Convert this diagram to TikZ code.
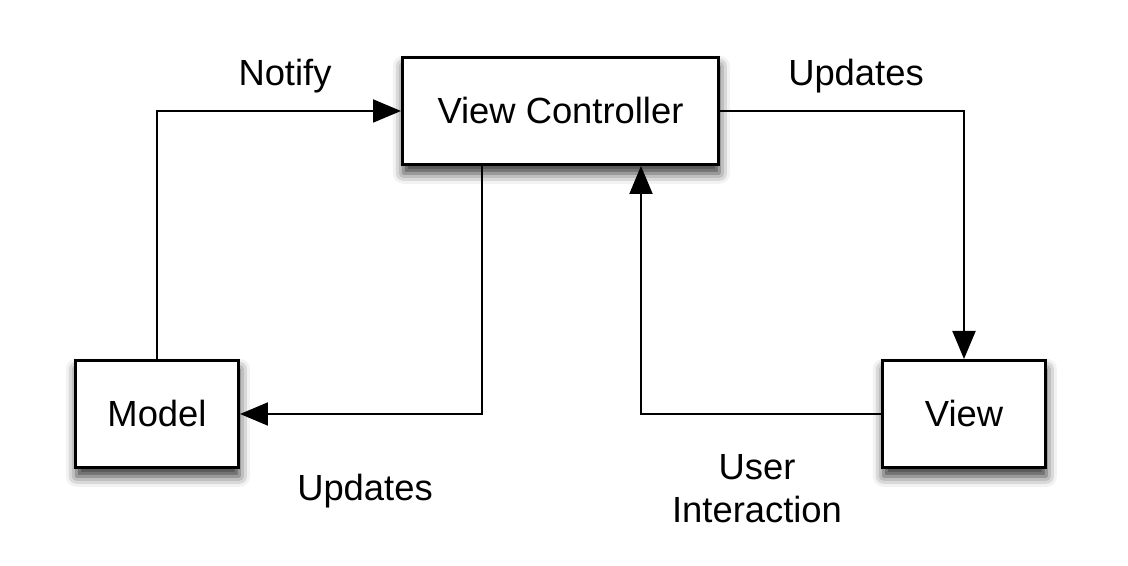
\documentclass[tikz,border=0pt]{standalone}
\usepackage{fontspec}
\setmainfont{Liberation Sans}
\usepackage{tikz}
\usetikzlibrary{arrows.meta}
\usetikzlibrary{positioning}
\usetikzlibrary{shadows.blur}

\tikzset{
  box/.style={draw, line width=1.7pt, fill=white, inner sep=0pt,
    minimum height=2.14cm,
    blur shadow={shadow xshift=0.5pt, shadow yshift=-5pt, shadow blur radius=6pt, shadow opacity=80}},
  conn/.style={line width=1.1pt, -{Triangle[length=0.56cm,width=0.46cm]}},
  lbl/.style={align=center}
}

\begin{document}
\begin{tikzpicture}[font=\fontsize{20.7}{24.5}\selectfont]
\useasboundingbox (0,0) rectangle (22.56,11.32);
\node [box, minimum width=6.32cm] (vc) at (11.21,9.10) {View Controller};
\node [box, minimum width=3.26cm] (model) at (3.14,3.04) {Model};
\node [box, minimum width=3.26cm] (view) at (19.28,3.04) {View};

\draw [conn] (model.north) |- (vc.west);
\draw [conn] (vc.east) -| (view.north);
\draw [conn] ([xshift=-1.57cm]vc.south) |- (model.east);
\draw [conn] (view.west) -| ([xshift=1.61cm]vc.south);

\node [lbl] (notify) at (5.70,9.80) {Notify};
\node [lbl] (updtop) at (17.12,9.80) {Updates};
\node [lbl] (updbot) at (7.30,1.50) {Updates};
\node [lbl] (user) at (15.14,1.54) {User\\Interaction};
\end{tikzpicture}
\end{document}
